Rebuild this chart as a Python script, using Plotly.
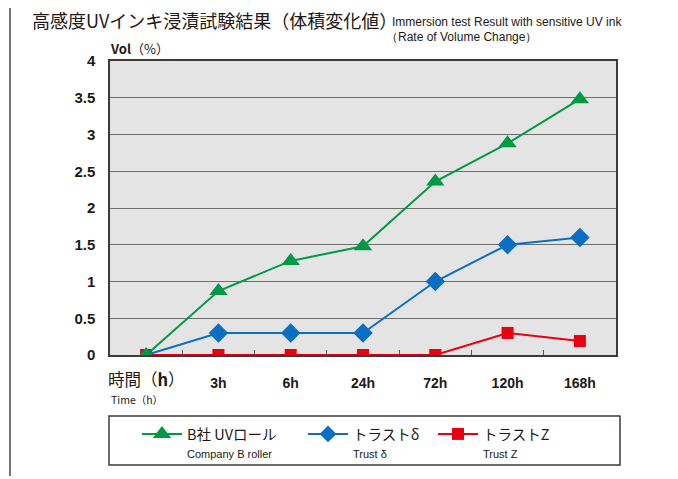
import plotly.graph_objects as go

categories = ["0h", "3h", "6h", "24h", "72h", "120h", "168h"]
tick_labels = ["", "3h", "6h", "24h", "72h", "120h", "168h"]
company_b = [0, 0.87, 1.28, 1.48, 2.36, 2.88, 3.48]
trust_delta = [0, 0.30, 0.30, 0.30, 1.00, 1.50, 1.60]
trust_z = [0, 0, 0, 0, 0, 0.30, 0.19]

GREEN = "#009944"
BLUE = "#0a6fc2"
RED = "#e60012"
JP = "Noto Sans CJK JP"
EN = "Liberation Sans, Arial, sans-serif"

# page offset of the figure (default body margin)
OX, OY = 8, 8
L, R, T, B = 110, 616, 61, 355
W, H = 678 - OX, 479 - OY
def px(x):
    return (x - L) / (R - L)
def py(y):
    return (B - y) / (B - T)

xs = list(range(len(categories)))
sub = "<br><span style=\"font-family:'Liberation Sans';font-size:11px\">%s</span>"

fig = go.Figure()
fig.add_trace(go.Scatter(
    x=xs, y=trust_z, mode="lines+markers",
    name="トラストZ" + sub % "Trust Z",
    line=dict(color=RED, width=2),
    marker=dict(symbol="square", size=12, color=RED, line=dict(width=0), opacity=1),
    legend="legend3",
))
fig.add_trace(go.Scatter(
    x=xs, y=trust_delta, mode="lines+markers",
    name="トラストδ" + sub % "Trust δ",
    line=dict(color=BLUE, width=2),
    marker=dict(symbol="diamond", size=[0] + [15] * (len(xs) - 1), color=BLUE,
                line=dict(width=0), opacity=1),
    legend="legend2",
))
fig.add_trace(go.Scatter(
    x=xs, y=company_b, mode="lines+markers",
    name="B社 UVロール" + sub % "Company B roller",
    line=dict(color=GREEN, width=2),
    marker=dict(symbol="triangle-up", size=16, color=GREEN, line=dict(width=0), opacity=1),
    legend="legend",
))

def leg(x):
    return dict(
        orientation="h", x=px(x), y=py(418), xanchor="left", yanchor="top",
        bgcolor="rgba(0,0,0,0)", borderwidth=0,
        font=dict(family=JP, size=14.5, color="#231815"),
        valign="top", itemwidth=40, itemsizing="trace",
    )

fig.update_layout(
    width=W, height=H,
    margin=dict(l=L - OX, r=678 - R, t=T - OY, b=479 - B, autoexpand=False),
    paper_bgcolor="white",
    plot_bgcolor="#e4e4e4",
    font=dict(family=EN, color="#231815"),
    showlegend=True,
    legend=leg(137),
    legend2=leg(303),
    legend3=leg(433),
    xaxis=dict(
        range=[-0.5, 6.5], tickmode="array", tickvals=xs, ticktext=tick_labels,
        showgrid=False, zeroline=False, showline=True, mirror=True,
        linecolor="#3e3a39", linewidth=1.5, ticks="",
        tickfont=dict(family=EN, size=14, color="#231815", weight="bold"),
        ticklabelstandoff=14,
        minor=dict(tickmode="array", tickvals=[i + 0.5 for i in xs[:-1]],
                   ticks="inside", ticklen=5, tickcolor="#555", tickwidth=1,
                   showgrid=False),
    ),
    yaxis=dict(
        range=[0, 4], tickmode="linear", tick0=0, dtick=0.5,
        showgrid=True, gridcolor="#6e6e6e", gridwidth=1.3,
        zeroline=False, showline=True, mirror=True,
        linecolor="#3e3a39", linewidth=1.5, ticks="",
        tickfont=dict(family=EN, size=15, color="#231815", weight="bold"),
        ticklabelstandoff=10,
    ),
    shapes=[
        dict(type="line", xref="paper", yref="paper",
             x0=px(10), x1=px(10), y0=py(0), y1=py(476),
             line=dict(color="#7a7374", width=2)),
        dict(type="rect", xref="paper", yref="paper",
             x0=px(109), x1=px(620), y0=py(416), y1=py(465),
             line=dict(color="#3e3a39", width=1.5), fillcolor="rgba(0,0,0,0)"),
    ],
    annotations=[
        dict(text="高感度UVインキ浸漬試験結果（体積変化値）", xref="paper", yref="paper",
             x=px(30), y=py(20), xanchor="left", yanchor="middle", showarrow=False,
             font=dict(family=JP, size=18, color="#231815")),
        dict(text="Immersion test Result with sensitive UV ink", xref="paper", yref="paper",
             x=px(390), y=py(22), xanchor="left", yanchor="middle", showarrow=False,
             font=dict(family="Liberation Sans Narrow, " + EN, size=12, color="#231815")),
        dict(text="（Rate of Volume Change）", xref="paper", yref="paper",
             x=px(384), y=py(37), xanchor="left", yanchor="middle", showarrow=False,
             font=dict(family="Liberation Sans Narrow, " + EN, size=12, color="#231815")),
        dict(text="<b>Vol</b>（%）", xref="paper", yref="paper",
             x=px(108), y=py(49), xanchor="left", yanchor="middle", showarrow=False,
             font=dict(family=JP, size=13, color="#231815")),
        dict(text="時間（<b>h</b>）", xref="paper", yref="paper",
             x=px(106), y=py(379), xanchor="left", yanchor="middle", showarrow=False,
             font=dict(family=JP, size=16.5, color="#231815")),
        dict(text="Time（h）", xref="paper", yref="paper",
             x=px(109), y=py(399), xanchor="left", yanchor="middle", showarrow=False,
             font=dict(family=JP, size=10.5, color="#231815")),
    ],
)

fig.write_html("out.html")
